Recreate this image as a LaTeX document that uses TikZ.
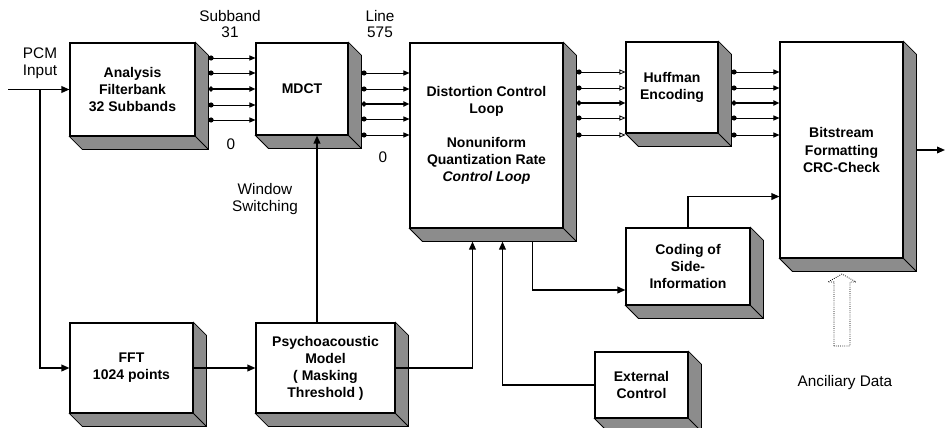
\documentclass[tikz,border=0pt]{standalone}
\usepackage{fontspec}
\setmainfont{Liberation Sans}
\usetikzlibrary{arrows.meta, calc, positioning}

\newcommand{\boxfont}{\fontsize{10.5}{12.8}\selectfont\bfseries}
\newcommand{\labfont}{\fontsize{11.5}{12.5}\selectfont}
% shaded side and bottom faces of a block
\newcommand{\slab}[1]{%
  \filldraw[slabfill] (#1.north east) -- ++(13,13) -- ($(#1.south east)+(13,13)$)
    -- ($(#1.south west)+(13,13)$) -- (#1.south west) -- (#1.south east) -- cycle;
  \draw[slabfill, fill=none] (#1.south east) -- ++(13,13);}

\begin{document}
\begin{tikzpicture}[
    x=0.75pt, y=-0.75pt,
    block/.style 2 args={rectangle, draw, line width=0.8pt, fill=white, align=center, font=\boxfont,
        inner sep=0pt, minimum width=#1*0.75pt, minimum height=#2*0.75pt},
    slabfill/.style={draw, line width=0.6pt, fill=black!45},
    txt/.style={align=center, font=\labfont, inner sep=1pt},
    conn/.style={line width=1.1pt, -{Triangle[length=6pt, width=5pt]}},
    bus/.style={line width=0.6pt, {Circle[length=3.8pt]}-{Triangle[length=4.5pt, width=3.8pt]}},
    openbus/.style={line width=0.6pt, {Circle[length=3.8pt]}-{Triangle[open, length=4.5pt, width=3.8pt]}},
    hollow/.style={densely dotted, line width=0.6pt}
]
\useasboundingbox (0,0) rectangle (946,428);

% blocks
\node[block={125}{93}]  (ana)  at (132.5,89.5) {Analysis\\Filterbank\\32 Subbands};
\node[block={92}{92}]   (mdct) at (302,89)     {MDCT};
\node[block={153}{185}] (dcl)  at (486.5,135.5) {Distortion Control\\Loop\\[12.8pt]Nonuniform\\Quantization Rate\\\textit{Control Loop}};
\node[block={92}{91}]   (huff) at (672,87.5)   {Huffman\\Encoding};
\node[block={123}{216}] (bit)  at (841.5,150)  {Bitstream\\Formatting\\CRC-Check};
\node[block={124}{77}]  (side) at (688,266.5)  {Coding of\\Side-\\Information};
\node[block={123}{90}]  (fft)  at (131.5,368)  {FFT\\1024 points};
\node[block={139}{90}]  (psy)  at (325.5,368)  {Psychoacoustic\\Model\\( Masking\\Threshold )};
\node[block={93}{66}]   (ext)  at (641.5,385)  {External\\Control};
\foreach \b in {ana,mdct,dcl,huff,bit,side,fft,psy,ext} {\slab{\b}}

% labels
\node[txt] (pcm) at (40,63.5)  {PCM\\Input};
\node[txt] (sb)  at (230,24)   {Subband\\31};
\node[txt] (sb0) at (231,144)  {0};
\node[txt] (ln)  at (380,24)   {Line\\575};
\node[txt] (ln0) at (383,157)  {0};
\node[txt] (win) at (265,199)  {Window\\Switching};
\node[txt] (anc) at (845,383)  {Anciliary Data};

\coordinate (in) at (8,89.5);
\coordinate (split) at (40,89.5);
\coordinate (out) at (945,150);
\coordinate (ancbase) at (842,346);

% connectors
\draw[conn] (in) -- (ana.west);
\draw[conn] (split) |- (fft.west);
\draw[conn] (fft.east) -- (psy.west);
\draw[conn] ($(psy.north)+(-8.5,0)$) -- ($(mdct.south)+(15,0)$);
\draw[conn] (psy.east) -| ($(dcl.south west)+(63,13)$);
\draw[conn] (ext.west) -| ($(dcl.south west)+(93,13)$);
\draw[conn] ($(dcl.south west)+(123,13)$) |- ($(side.west)+(0,23.5)$);
\draw[conn] (side.north) |- ($(bit.south west)+(0,-62)$);
\draw[conn] ($(bit.east)+(13,0)$) -- (out);

% buses
\foreach \yy/\lw in {58/0.6,73/0.6,89/1.3,105/0.6,120/0.6}
  \draw[bus, line width=\lw pt] ($(ana.east |- 0,\yy)+(13,0)$) -- (mdct.west |- 0,\yy);
\foreach \yy/\lw in {73/0.6,89/0.6,104/1.3,119/0.6,135/0.6}
  \draw[bus, line width=\lw pt] ($(mdct.east |- 0,\yy)+(13,0)$) -- (dcl.west |- 0,\yy);
\foreach \yy/\lw in {72/0.6,88/0.6,103/1.3,118/0.6,135/0.6}
  \draw[openbus, line width=\lw pt] ($(dcl.east |- 0,\yy)+(13,0)$) -- (huff.west |- 0,\yy);
\foreach \yy/\lw in {72/0.6,88/0.6,103/1.3,118/0.6,135/0.6}
  \draw[bus, line width=\lw pt] ($(huff.east |- 0,\yy)+(13,0)$) -- (bit.west |- 0,\yy);

% ancillary data input
\draw[hollow] (ancbase) ++(-8,0) -- ++(0,-64) -- ++(-6,0) -- ++(14,-8) -- ++(14,8)
  -- ++(-6,0) -- ++(0,64) -- cycle;
\end{tikzpicture}
\end{document}
